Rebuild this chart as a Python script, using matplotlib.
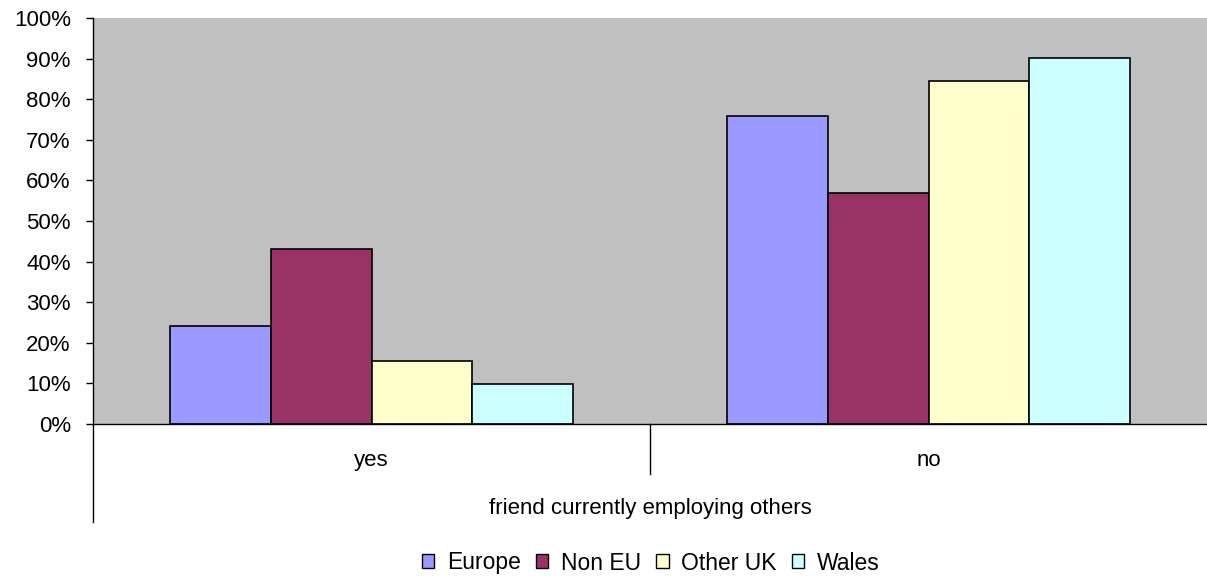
import matplotlib.pyplot as plt
from matplotlib.patches import Patch
import numpy as np

categories = ['yes', 'no']
series = ['Europe', 'Non EU', 'Other UK', 'Wales']
europe = [0.241, 0.759]
non_eu = [0.430, 0.570]
other_uk = [0.155, 0.845]
wales = [0.099, 0.901]
colors = ['#9999FF', '#993366', '#FFFFCC', '#CCFFFF']
axis_title = 'friend currently employing others'

plt.rcParams['font.family'] = ['Liberation Sans', 'DejaVu Sans']
fs = 16

W, H = 1207, 577
fig = plt.figure(figsize=(W / 100, H / 100), dpi=100)
ax = fig.add_axes([93 / W, (H - 424) / H, (W - 93) / W, (424 - 18) / H])
ax.set_facecolor('#C0C0C0')

x = np.arange(len(categories))
bw = 0.181
for i, (vals, c) in enumerate(zip([europe, non_eu, other_uk, wales], colors)):
    ax.bar(x + (i - 1.5) * bw, vals, bw, color=c, edgecolor='black', linewidth=1.2,
           label=series[i], zorder=2)

ax.set_xlim(-0.5, 1.5)
ax.set_ylim(0, 1)
ax.set_yticks(np.arange(0, 1.01, 0.1))
ax.set_yticklabels([f'{int(round(v * 100))}%' for v in np.arange(0, 1.01, 0.1)], fontsize=fs)
ax.tick_params(axis='y', direction='out', length=5, width=1, pad=11)
ax.set_xticks([])
for s in ['top', 'right']:
    ax.spines[s].set_visible(False)
ax.spines['left'].set_linewidth(1)
ax.spines['bottom'].set_linewidth(1)

# multi-level category axis below the plot
tr = ax.get_xaxis_transform()
ax.plot([-0.5, -0.5], [0, -0.241], color='black', lw=1, transform=tr, clip_on=False)
ax.plot([0.5, 0.5], [0, -0.123], color='black', lw=1, transform=tr, clip_on=False)
for xi, cat in zip(x, categories):
    ax.text(xi, -0.089, cat, transform=tr, ha='center', va='center', fontsize=fs)
ax.text(0.5, -0.207, axis_title, transform=tr, ha='center', va='center', fontsize=fs)

handles = [Patch(facecolor=c, edgecolor='black', linewidth=1) for c in colors]
fig.legend(handles, series, loc='center', bbox_to_anchor=(0.539, 1 - 563 / H), ncol=4,
           frameon=False, fontsize=fs + 0.5, handlelength=0.55, handleheight=0.55,
           handletextpad=0.55, columnspacing=0.65)

fig.savefig('out.png', dpi=100)
